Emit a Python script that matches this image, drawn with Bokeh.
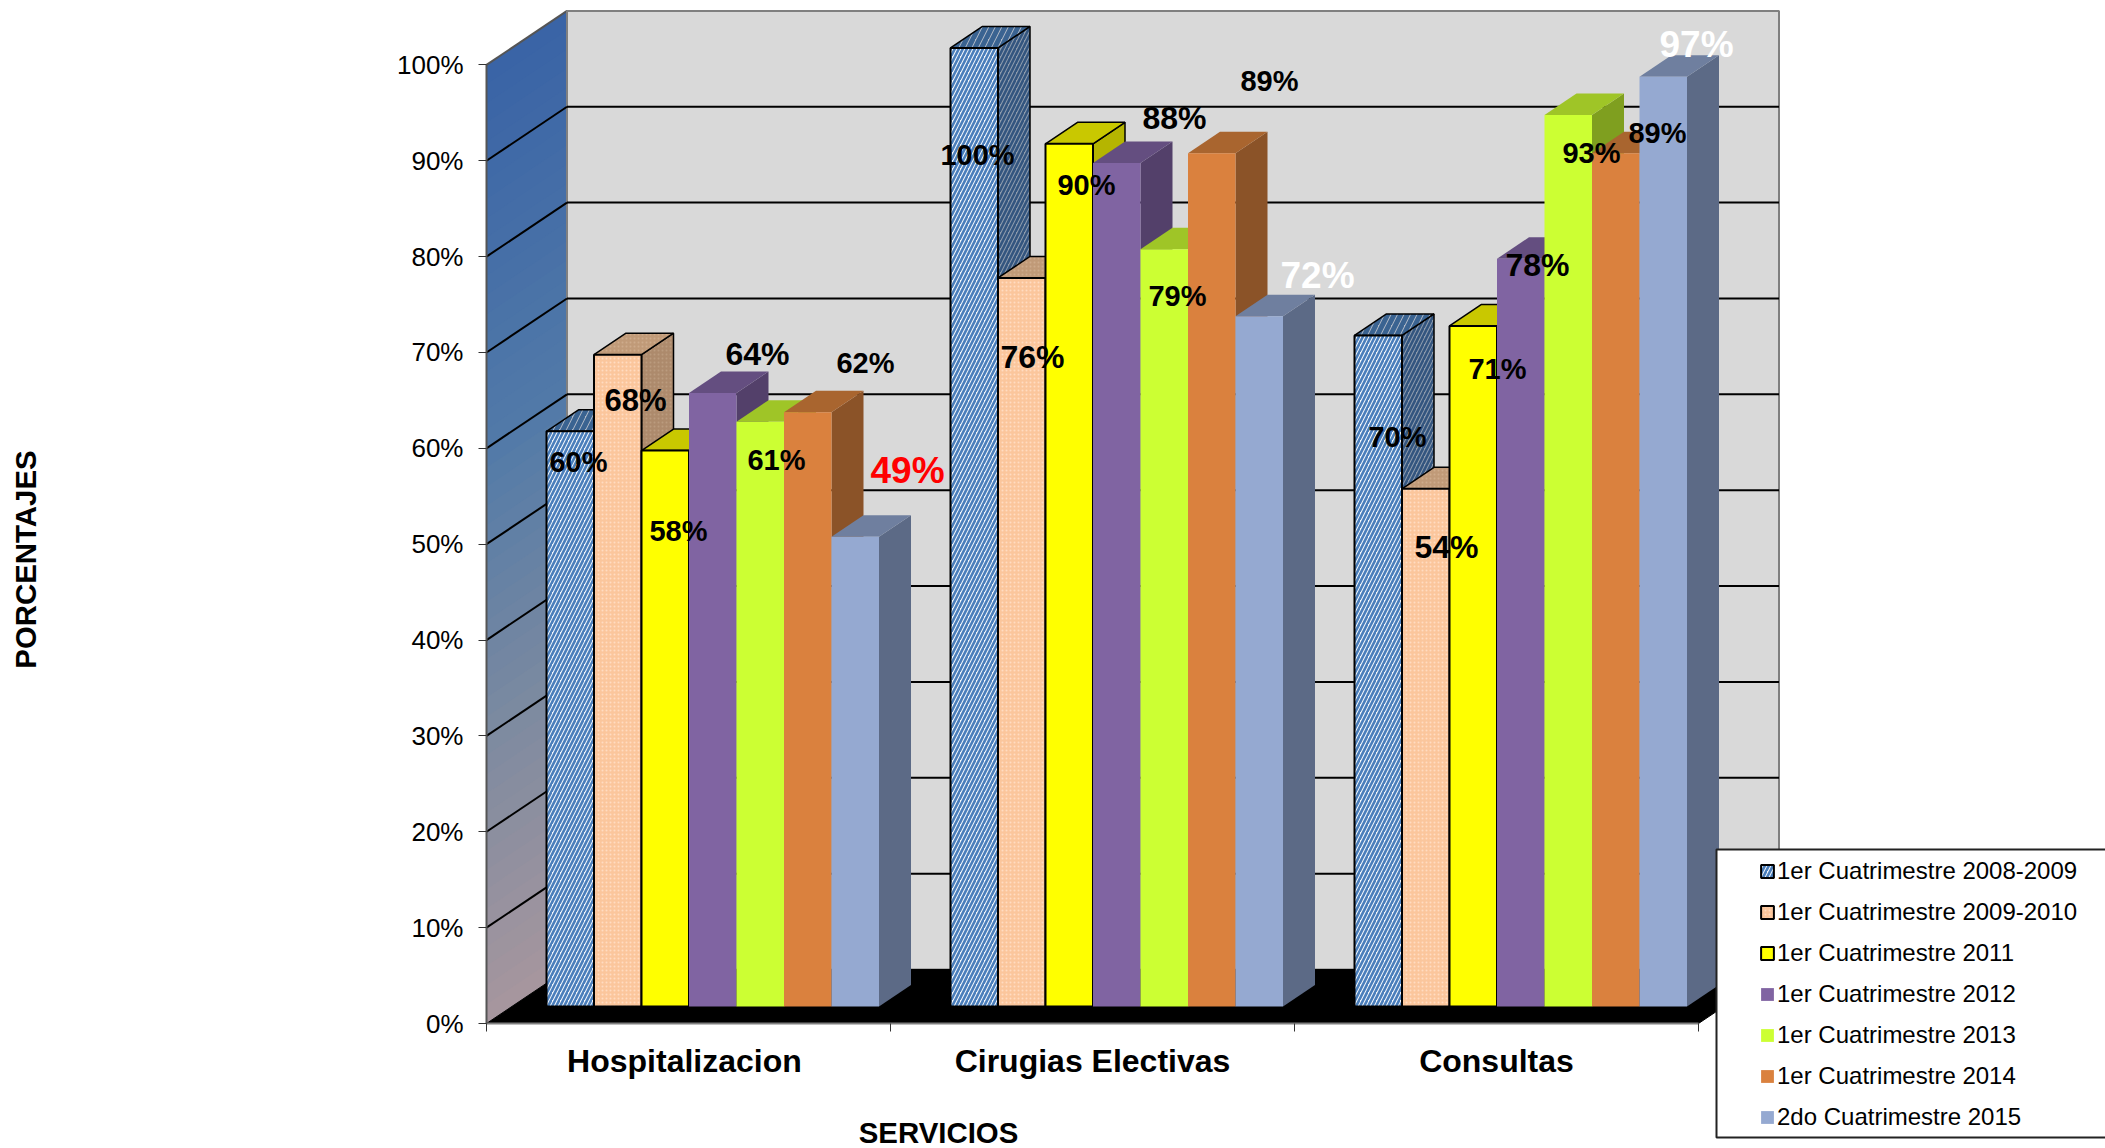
from bokeh.plotting import figure
from bokeh.embed import file_html
from bokeh.resources import INLINE
from bokeh.models import (ColumnDataSource, Range1d, LinearAxis, FixedTicker, Legend, LegendItem,
                          Label, BoxAnnotation, PrintfTickFormatter)
from bokeh.core.properties import value

# ---------- data ----------
categories = ["Hospitalizacion", "Cirugias Electivas", "Consultas"]
series_names = ["1er Cuatrimestre 2008-2009", "1er Cuatrimestre 2009-2010", "1er Cuatrimestre 2011",
                "1er Cuatrimestre 2012", "1er Cuatrimestre 2013", "1er Cuatrimestre 2014",
                "2do Cuatrimestre 2015"]
s2008 = [60, 100, 70]
s2009 = [68, 76, 54]
s2011 = [58, 90, 71]
s2012 = [64, 88, 78]
s2013 = [61, 79, 93]
s2014 = [62, 89, 89]
s2015 = [49, 72, 97]
y_ticks = [0, 10, 20, 30, 40, 50, 60, 70, 80, 90, 100]
series_values = [s2008, s2009, s2011, s2012, s2013, s2014, s2015]

# ---------- layout (page pixels) ----------
F = "Liberation Sans"
W, H = 2105, 1148
AX_L, AX_B, PX_GROUP, PX_PCT = 486.0, 1023.0, 404.0, 9.586
def X(px): return (px - AX_L) / PX_GROUP
def Y(py): return (AX_B - py) / PX_PCT
D = 80.5 / PX_GROUP          # depth of the box, x
DP = 54.0 / PX_PCT           # depth of the box, y
BAR_OFF = 60.0 / PX_GROUP
BAR_W = 47.5 / PX_GROUP
BAR_BASE = 17.0 / PX_PCT
BD = 32.0 / PX_GROUP
BDP = 21.5 / PX_PCT
N_GROUPS = len(categories)

p = figure(width=W, height=H, output_backend="svg", toolbar_location=None,
           x_range=Range1d(X(0), X(W)), y_range=Range1d(Y(H), Y(0)),
           x_axis_type=None, y_axis_type=None,
           min_border_left=0, min_border_right=0, min_border_top=0, min_border_bottom=0,
           outline_line_color=None, background_fill_color="white", border_fill_color="white")
p.grid.visible = False

# ---------- box: back wall, floor, left wall ----------
p.quad(left=[D], right=[D + N_GROUPS], bottom=[DP], top=[100 + DP], fill_color="#d9d9d9", line_color="#808080", line_width=2)

def lerp(a, b, t): return tuple(int(round(a[i] + (b[i] - a[i]) * t)) for i in range(3))
stops = [(0.0, (166, 150, 158)), (0.3, (124, 138, 160)), (0.6, (82, 122, 168)), (1.0, (58, 100, 166))]
def ramp(t):
    for (t0, c0), (t1, c1) in zip(stops, stops[1:]):
        if t <= t1:
            c = lerp(c0, c1, (t - t0) / (t1 - t0))
            return "#%02x%02x%02x" % c
    return "#%02x%02x%02x" % stops[-1][1]
N = 50
xs, ys, cs = [], [], []
for i in range(N):               # painted bottom-up, each band runs to the top
    v = 100.0 * i / N
    xs.append([0, D, D, 0]); ys.append([v, v + DP, 100 + DP, 100]); cs.append(ramp(i / (N - 1)))
p.patches(xs, ys, fill_color=cs, line_color=None)
p.line([0, D], [100, 100 + DP], line_color="#555555", line_width=2)
p.line([D, D], [DP, 100 + DP], line_color="#808080", line_width=2)

# gridlines on both walls
gl = [t for t in y_ticks if t > 0 and t < 100]
p.multi_line([[D, D + N_GROUPS] for _ in gl], [[t + DP, t + DP] for t in gl], line_color="black", line_width=2)
p.multi_line([[0, D] for _ in y_ticks[1:-1]], [[t, t + DP] for t in y_ticks[1:-1]], line_color="black", line_width=2)
p.patches([[0, D, D + N_GROUPS, N_GROUPS]], [[0, DP, DP, 0]], fill_color="black", line_color="black")

# ---------- bars ----------
front = ["#f4f8fc", "#fbc69c", "#ffff00", "#8064a2", "#ccff33", "#da813e", "#95a9d1"]
side = ["#8f9cad", "#ad8a6c", "#b5b500", "#53406a", "#7f9f1f", "#8b5328", "#5c6a86"]
top = ["#b4bcc8", "#c09a78", "#c9c800", "#644e80", "#9fc527", "#a9652f", "#6f7f9f"]
hatch = ["right_diagonal_line", "dot", None, None, None, None, None]
hcol = ["#4a7ebb", "#ffdcc2", None, None, None, None, None]
hcol_side = ["#33557f", "#bb9b7e", None, None, None, None, None]
hcol_top = ["#3a6391", "#cdab8c", None, None, None, None, None]
hatch_scale = [8, 4, None, None, None, None, None]
hatch_weight = [2.6, 1.5, None, None, None, None, None]
top_hatch_scale = [13, 4, None, None, None, None, None]
top_hatch_weight = [5, 1.5, None, None, None, None, None]
outlined = [True, True, True, False, False, False, False]

items = []
for si, vals in enumerate(series_values):
    l = [g + BAR_OFF + si * BAR_W for g in range(N_GROUPS)]
    r = [a + BAR_W for a in l]
    t = [BAR_BASE + v for v in vals]
    lc = "black" if outlined[si] else None
    kw_f, kw_s, kw_t = {}, {}, {}
    if hatch[si]:
        kw_f = dict(hatch_pattern=hatch[si], hatch_color=hcol[si], hatch_scale=hatch_scale[si], hatch_weight=hatch_weight[si])
        kw_s = dict(hatch_pattern=hatch[si], hatch_color=hcol_side[si], hatch_scale=hatch_scale[si], hatch_weight=hatch_weight[si])
        kw_t = dict(hatch_pattern=hatch[si], hatch_color=hcol_top[si], hatch_scale=top_hatch_scale[si], hatch_weight=top_hatch_weight[si])
    p.patches([[b, b + BD, b + BD, b] for b in r],
              [[BAR_BASE, BAR_BASE + BDP, y + BDP, y] for y in t],
              fill_color=side[si], line_color=lc, line_width=1.5, **kw_s)
    p.patches([[a, b, b + BD, a + BD] for a, b in zip(l, r)],
              [[y, y, y + BDP, y + BDP] for y in t],
              fill_color=top[si], line_color=lc, line_width=1.5, **kw_t)
    q = p.quad(left=l, right=r, bottom=[BAR_BASE] * N_GROUPS, top=t,
               fill_color=front[si], line_color=lc, line_width=2, **kw_f)
    items.append(LegendItem(label=series_names[si], renderers=[q]))

# ---------- value labels (page pixel centres, placed by hand in the original) ----------
label_x = [[578, 635, 678, 757, 776, 865, 907],
           [977, 1032, 1086, 1174, 1177, 1269, 1317],
           [1397, 1446, 1497, 1537, 1591, 1657, 1696]]
label_y = [[461, 400, 530, 353, 459, 362, 470],
           [154, 356, 184, 117, 295, 80, 275],
           [436, 546, 368, 264, 152, 132, 44]]
label_sz = [[29, 31, 29, 32, 29, 29, 37],
            [29, 32, 29, 32, 29, 29, 37],
            [29, 32, 29, 32, 29, 29, 37]]
label_cl = [["black"] * 6 + ["#ff0000"], ["black"] * 6 + ["white"], ["black"] * 6 + ["white"]]
lx, ly, lt, lz, lc = [], [], [], [], []
for g in range(N_GROUPS):
    for si, vals in enumerate(series_values):
        lx.append(X(label_x[g][si])); ly.append(Y(label_y[g][si])); lt.append(f"{vals[g]}%")
        lz.append(f"{label_sz[g][si]}px"); lc.append(label_cl[g][si])
src = ColumnDataSource(dict(x=lx, y=ly, t=lt, z=lz, c=lc))
p.text("x", "y", text="t", source=src, text_font=value(F), text_font_style="bold", text_font_size="z",
       text_color="c", text_align="center", text_baseline="middle")

# ---------- axes ----------
yax = LinearAxis(ticker=FixedTicker(ticks=y_ticks), formatter=PrintfTickFormatter(format="%d%%"), bounds=(0, 100), fixed_location=0)
yax.major_label_text_font = F
yax.major_label_text_font_size = "26px"
yax.major_label_text_color = "black"
yax.major_label_standoff = 15
yax.major_tick_out = 8
yax.major_tick_in = 0
yax.minor_tick_line_color = None
yax.axis_line_color = "#555555"
yax.axis_line_width = 2
yax.major_tick_line_color = "#333333"
p.add_layout(yax, "left")

cat_ticks = [0.49, 1.5, 2.5]
xax = LinearAxis(ticker=FixedTicker(ticks=cat_ticks, minor_ticks=list(range(N_GROUPS + 1))),
                 major_label_overrides={t: c for t, c in zip(cat_ticks, categories)}, bounds=(0, N_GROUPS), fixed_location=0)
xax.major_label_text_font = F
xax.major_label_text_font_style = "bold"
xax.major_label_text_font_size = "32px"
xax.major_label_text_color = "black"
xax.major_label_standoff = 11
xax.major_tick_out = 0
xax.major_tick_in = 0
xax.minor_tick_out = 8
xax.minor_tick_in = 0
xax.minor_tick_line_color = "#333333"
xax.axis_line_color = "#808080"
xax.axis_line_width = 2
p.add_layout(xax, "below")

p.add_layout(Label(x=X(25), y=Y(559), text="PORCENTAJES", angle=90, angle_units="deg", text_align="center",
                   text_baseline="middle", text_font=F, text_font_style="bold", text_font_size="29.4px", text_color="black"))
p.add_layout(Label(x=X(938), y=Y(1132), text="SERVICIOS", text_align="center", text_baseline="middle",
                   text_font=F, text_font_style="bold", text_font_size="29.4px", text_color="black"))

# ---------- legend ----------
p.add_layout(BoxAnnotation(left=X(1716), right=X(2130), top=Y(849), bottom=Y(1137), fill_color="white", fill_alpha=1,
                           line_color="#222222", line_width=2, line_alpha=1))
leg = Legend(items=items, location=(1759, H - 1131), padding=0, margin=0, spacing=13,
             label_height=20, glyph_height=16, glyph_width=16, label_standoff=2,
             label_text_font=F, label_text_font_size="24px", label_text_color="black",
             background_fill_alpha=0, border_line_color=None)
p.add_layout(leg, "center")

open("out.html", "w").write(file_html(p, INLINE))
